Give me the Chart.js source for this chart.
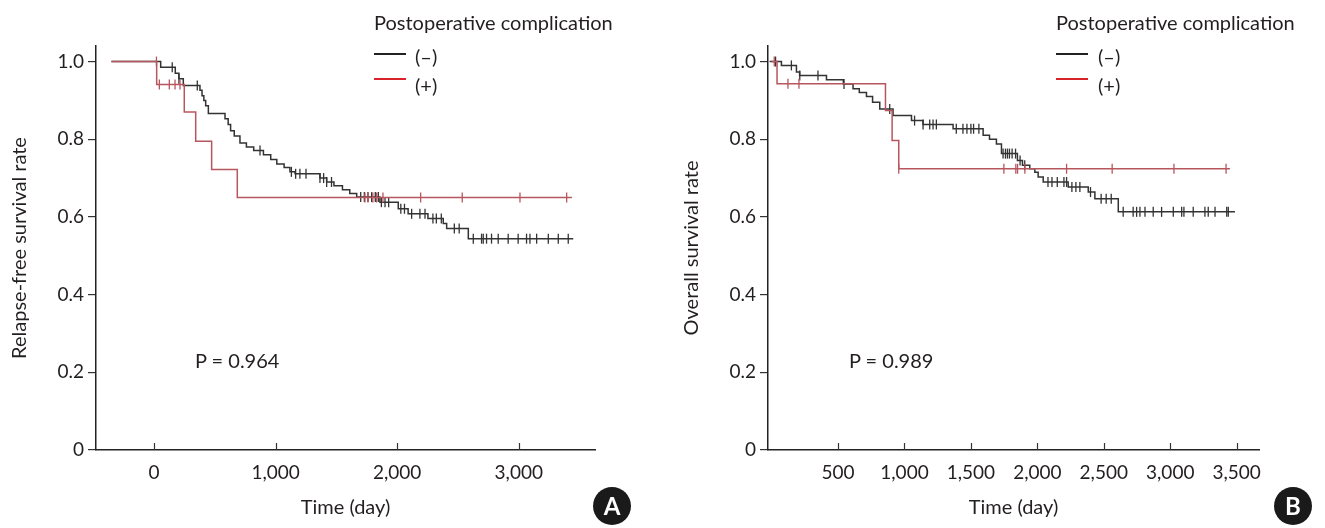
<!DOCTYPE html>
<html>
<head>
<meta charset="utf-8">
<script src="https://cdn.jsdelivr.net/npm/chart.js@4.4.1/dist/chart.umd.min.js"></script>
<style>
body{margin:0;background:#fff;font-family:Lato,sans-serif;color:#231f20}
#wrap{position:relative;width:1325px;height:528px;overflow:hidden}
canvas{position:absolute;top:0}
.note{position:absolute;font-size:20px;white-space:nowrap;line-height:22px}
.key{position:absolute;height:2px;width:32px}
.badge{position:absolute;width:38px;height:38px;border-radius:50%;background:#1a1a1a;color:#fff;font-weight:bold;font-size:24px;text-align:center;line-height:38px}
</style>
</head>
<body>
<div id="wrap">
<canvas id="chartA" width="660" height="528" style="left:0"></canvas>
<canvas id="chartB" width="665" height="528" style="left:660px"></canvas>

<div class="note" style="left:374px;top:11px">Postoperative complication</div>
<div class="key" style="left:374px;top:53px;background:#222"></div>
<div class="note" style="left:415px;top:45px">(–)</div>
<div class="key" style="left:374px;top:78px;background:#d8232a"></div>
<div class="note" style="left:415px;top:74px">(+)</div>
<div class="note" style="left:195px;top:349px">P = 0.964</div>
<div class="badge" style="left:593px;top:487px">A</div>

<div class="note" style="left:1056px;top:11px">Postoperative complication</div>
<div class="key" style="left:1056px;top:53px;background:#222"></div>
<div class="note" style="left:1098px;top:45px">(–)</div>
<div class="key" style="left:1056px;top:78px;background:#d8232a"></div>
<div class="note" style="left:1098px;top:74px">(+)</div>
<div class="note" style="left:849px;top:349px">P = 0.989</div>
<div class="badge" style="left:1274px;top:487px">B</div>
</div>

<script>
// tick values
const yTicks = [0, 0.2, 0.4, 0.6, 0.8, 1.0];
const yTickLabels = ['0', '0.2', '0.4', '0.6', '0.8', '1.0'];
const xTicksA = [0, 1000, 2000, 3000];
const xTicksB = [500, 1000, 1500, 2000, 2500, 3000, 3500];

// A: relapse-free survival, complication (-)
const rfsNegTime = [-350, 55, 175, 205, 241, 378, 395, 410, 425, 447, 584, 610, 630, 660, 707, 760, 820, 900, 960, 1010, 1070, 1118, 1160, 1365, 1420, 1480, 1550, 1610, 1667, 1858, 2009, 2090, 2253, 2379, 2407, 2585, 3448];
const rfsNegSurv = [1.0, 0.985, 0.970, 0.956, 0.938, 0.926, 0.912, 0.900, 0.886, 0.866, 0.853, 0.838, 0.822, 0.808, 0.790, 0.780, 0.771, 0.760, 0.748, 0.736, 0.727, 0.716, 0.711, 0.700, 0.690, 0.680, 0.670, 0.660, 0.651, 0.638, 0.621, 0.608, 0.596, 0.583, 0.570, 0.544, 0.544];
const rfsNegCensor = [150, 205, 356, 872, 1130, 1165, 1200, 1250, 1365, 1395, 1420, 1460, 1700, 1730, 1760, 1790, 1820, 1845, 1870, 1900, 1930, 2030, 2060, 2119, 2187, 2229, 2294, 2322, 2363, 2470, 2510, 2626, 2694, 2708, 2735, 2776, 2831, 2913, 2995, 3064, 3092, 3147, 3243, 3325, 3407];

// A: complication (+)
const rfsPosTime = [-350, 22, 249, 343, 474, 685, 3437];
const rfsPosSurv = [1.0, 0.941, 0.870, 0.795, 0.722, 0.650, 0.650];
const rfsPosCensor = [20, 44, 126, 173, 214, 1735, 1760, 1800, 1831, 1883, 2193, 2535, 3010, 3394];

// B: overall survival, complication (-)
const osNegTime = [-15, 74, 187, 211, 413, 540, 613, 660, 714, 760, 814, 914, 1053, 1140, 1366, 1592, 1640, 1692, 1730, 1850, 1888, 1943, 1981, 2006, 2044, 2232, 2383, 2433, 2609, 3487];
const osNegSurv = [1.0, 0.990, 0.973, 0.964, 0.953, 0.942, 0.930, 0.920, 0.910, 0.895, 0.878, 0.861, 0.848, 0.838, 0.827, 0.810, 0.800, 0.788, 0.763, 0.745, 0.733, 0.724, 0.715, 0.703, 0.690, 0.677, 0.664, 0.647, 0.613, 0.613];
const osNegCensor = [30, 149, 212, 349, 545, 889, 1076, 1140, 1190, 1215, 1240, 1390, 1440, 1470, 1500, 1520, 1560, 1742, 1760, 1775, 1790, 1810, 1836, 1870, 1905, 2080, 2110, 2150, 2200, 2220, 2260, 2290, 2320, 2400, 2480, 2518, 2556, 2646, 2721, 2747, 2772, 2810, 2872, 2935, 3023, 3086, 3103, 3173, 3261, 3286, 3337, 3425, 3437];

// B: complication (+)
const osPosTime = [0, 41, 857, 907, 957, 3449];
const osPosSurv = [1.0, 0.943, 0.874, 0.797, 0.724, 0.724];
const osPosCensor = [20, 123, 206, 957, 1748, 1838, 1851, 1906, 2220, 2563, 3028, 3420];

const black = '#333333';
const red = '#b8565e';

Chart.defaults.font.family = 'Lato';
Chart.defaults.color = '#231f20';

function curvePoints(times, surv){
	let pts = [];
	for(let i = 0; i < times.length; i++){
		pts.push({x: times[i], y: surv[i]});
	}
	return pts;
}

// survival value at a censoring time
function censorPoints(times, surv, cens){
	let pts = [];
	for(let j = 0; j < cens.length; j++){
		let v = surv[0];
		for(let i = 0; i < times.length; i++){
			if(times[i] <= cens[j]) v = surv[i];
		}
		pts.push({x: cens[j], y: v});
	}
	return pts;
}

function lineSet(data, color){
	return {data: data, showLine: true, stepped: true, borderColor: color, borderWidth: 1.5, pointRadius: 0, fill: false};
}

function censorSet(data, color){
	return {data: data, showLine: false, pointStyle: 'line', rotation: 90, pointRadius: 5, borderColor: color, pointBorderWidth: 1.3, backgroundColor: color};
}

// x ticks in this figure point up into the plot
const innerTicks = {
	id: 'innerTicks',
	afterDraw(chart){
		const s = chart.scales.x;
		const ctx = chart.ctx;
		ctx.save();
		ctx.strokeStyle = '#333';
		ctx.lineWidth = 1.2;
		s.ticks.forEach(t => {
			const px = Math.round(s.getPixelForValue(t.value)) + 0.5;
			ctx.beginPath();
			ctx.moveTo(px, s.top);
			ctx.lineTo(px, s.top - 7);
			ctx.stroke();
		});
		ctx.restore();
	}
};

function makeChart(id, sets, xmin, xmax, xTicks, yTitle, yAxisWidth, yTitlePad, padRight){
	return new Chart(document.getElementById(id), {
		type: 'scatter',
		data: {datasets: sets},
		plugins: [innerTicks],
		options: {
			responsive: false,
			animation: false,
			layout: {padding: {left: 0, right: padRight, top: 46, bottom: 0}},
			plugins: {legend: {display: false}, tooltip: {enabled: false}},
			scales: {
				x: {
					type: 'linear', min: xmin, max: xmax,
					afterBuildTicks: s => { s.ticks = xTicks.map(v => ({value: v})); },
					afterFit: s => { s.height = 78; },
					grid: {display: true, drawOnChartArea: false, drawTicks: false},
					border: {display: true, color: '#222', width: 1.5},
					ticks: {padding: 11, font: {size: 19}, color: '#231f20', callback: v => v.toLocaleString('en-US')},
					title: {display: true, text: 'Time (day)', font: {size: 20}, color: '#231f20', padding: {top: 0, bottom: 8}}
				},
				y: {
					type: 'linear', min: 0, max: 1.04,
					afterBuildTicks: s => { s.ticks = yTicks.map(v => ({value: v})); },
					afterFit: s => { s.width = yAxisWidth; },
					grid: {display: true, drawOnChartArea: false, drawTicks: true, tickLength: 8, color: '#333', lineWidth: 1.2},
					border: {display: true, color: '#222', width: 1.5},
					ticks: {padding: 4, font: {size: 19}, color: '#231f20', callback: (v, i) => yTickLabels[yTicks.indexOf(v)]},
					title: {display: true, text: yTitle, font: {size: 20}, color: '#231f20', padding: {top: yTitlePad, bottom: 0}}
				}
			}
		}
	});
}

makeChart('chartA', [
	lineSet(curvePoints(rfsPosTime, rfsPosSurv), red),
	censorSet(censorPoints(rfsPosTime, rfsPosSurv, rfsPosCensor), red),
	lineSet(curvePoints(rfsNegTime, rfsNegSurv), black),
	censorSet(censorPoints(rfsNegTime, rfsNegSurv, rfsNegCensor), black)
], -477, 3627, xTicksA, 'Relapse-free survival rate', 96, 8, 65);

makeChart('chartB', [
	lineSet(curvePoints(osPosTime, osPosSurv), red),
	censorSet(censorPoints(osPosTime, osPosSurv, osPosCensor), red),
	lineSet(curvePoints(osNegTime, osNegSurv), black),
	censorSet(censorPoints(osNegTime, osNegSurv, osNegCensor), black)
], -27, 3668, xTicksB, 'Overall survival rate', 108, 20, 66);
</script>
</body>
</html>
